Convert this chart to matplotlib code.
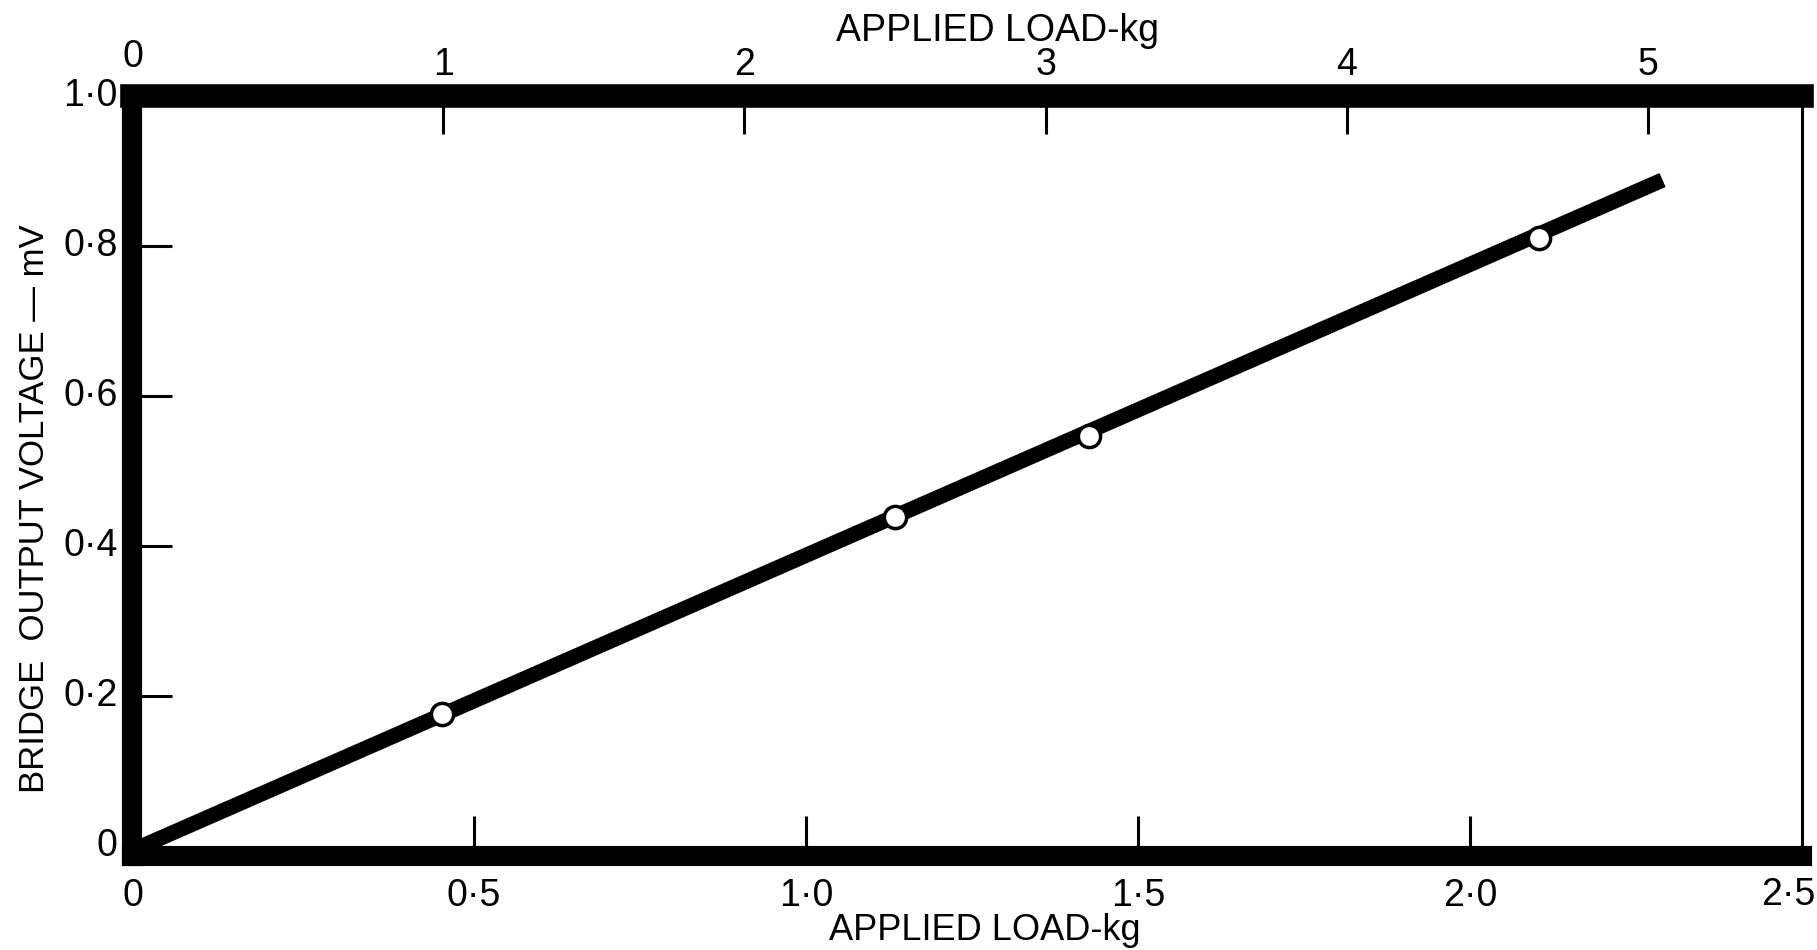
import matplotlib
matplotlib.use("Agg")
import matplotlib.pyplot as plt
from matplotlib import font_manager, transforms

# ---- data ----
line_x = [0.0, 2.29]          # applied load, kg (bottom scale)
line_y = [0.0, 0.888]         # bridge output voltage, mV
point_x = [0.452, 1.134, 1.426, 2.104]
point_y = [0.176, 0.439, 0.547, 0.811]

bottom_ticks = [0.5, 1.0, 1.5, 2.0]
bottom_tick_labels = ["0·5", "1·0", "1·5", "2·0"]
y_ticks = [0.2, 0.4, 0.6, 0.8]
y_tick_labels = ["0·2", "0·4", "0·6", "0·8"]
top_ticks = [1, 2, 3, 4, 5]
top_factor = 2.2046            # top scale units per bottom-scale unit

names = {f.name for f in font_manager.fontManager.ttflist}
narrow = 'Liberation Sans Narrow' in names
plt.rcParams['font.family'] = ['Liberation Sans', 'DejaVu Sans']
tick_family = ['Liberation Sans Narrow'] if narrow else ['Liberation Sans']
tick_fs = 32 if narrow else 27

fig = plt.figure(figsize=(18.17, 9.5), dpi=100)
W, H = 1817, 950
x_left, x_right = 132, 1802
y_bottom, y_top = 856, 96
ax = fig.add_axes([x_left / W, 1 - y_bottom / H, (x_right - x_left) / W, (y_bottom - y_top) / H])

ax.set_xlim(-0.015, 2.5)
ax.set_ylim(-0.013, 1.0)

ax.plot(line_x, line_y, color='black', lw=11, solid_capstyle='butt', zorder=3)
ax.plot(point_x, point_y, 'o', ms=16, mfc='white', mec='black', mew=2.5, zorder=4)

for side in ['left', 'bottom']:
    ax.spines[side].set_linewidth(14.5)
    ax.spines[side].set_capstyle('projecting')
ax.spines['top'].set_linewidth(17)
ax.spines['top'].set_capstyle('projecting')
ax.spines['right'].set_linewidth(2.2)

ax.set_xticks(bottom_ticks)
ax.set_xticklabels([])
ax.set_yticks(y_ticks)
ax.set_yticklabels([])
ax.tick_params(axis='both', direction='in', length=29, width=2.2, color='black')
ax.tick_params(axis='x', top=False)

# tick labels
for v, lab in zip([0.0] + bottom_ticks, ["0"] + bottom_tick_labels):
    ax.text(v if v > 0 else -0.014, -0.042, lab, ha='center', va='top',
            fontsize=tick_fs, family=tick_family)
fig.text(1815 / W, 1 - 877 / H, "2·5", ha='right', va='top', fontsize=tick_fs, family=tick_family)
for v, lab in zip([0.0] + y_ticks + [1.0], ["0"] + y_tick_labels + ["1·0"]):
    ax.text(-0.037, v, lab, ha='right', va='center', fontsize=tick_fs, family=tick_family)

# top secondary axis
sec = ax.secondary_xaxis('top', functions=(lambda x: x * top_factor, lambda x: x / top_factor))
sec.set_xticks(top_ticks)
sec.set_xticklabels([str(t) for t in top_ticks], fontsize=tick_fs, family=tick_family)
sec.tick_params(direction='in', length=27, width=2.2, pad=9)
sec.spines['top'].set_visible(False)
ax.text(-0.014, 1.0, "0", ha='center', va='bottom', fontsize=tick_fs, family=tick_family,
        transform=ax.transData + transforms.ScaledTranslation(0, 21 / 100, fig.dpi_scale_trans))

fig.text(997 / W, 1 - 31 / H, "APPLIED LOAD-kg", ha='center', va='center', fontsize=27)
fig.text(985 / W, 1 - 930 / H, "APPLIED LOAD-kg", ha='center', va='center', fontsize=26)
fig.text(35 / W, 1 - 509 / H, "BRIDGE  OUTPUT VOLTAGE — mV", ha='center', va='center',
         rotation=90, fontsize=25)

fig.savefig("out.png", dpi=100)
